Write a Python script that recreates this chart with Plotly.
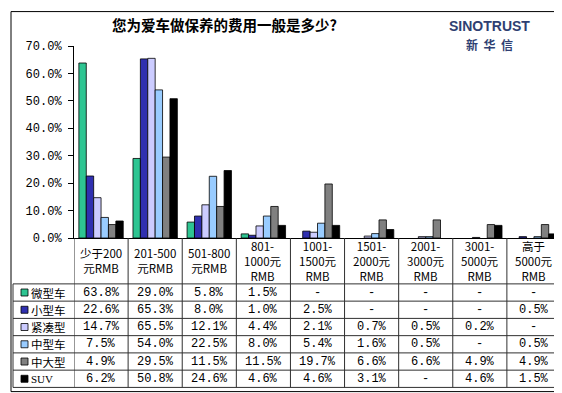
import plotly.graph_objects as go

# ---------------- data ----------------
categories = ["少于200<br>元RMB", "201-500<br>元RMB", "501-800<br>元RMB",
              "801-<br>1000元<br>RMB", "1001-<br>1500元<br>RMB", "1501-<br>2000元<br>RMB",
              "2001-<br>3000元<br>RMB", "3001-<br>5000元<br>RMB", "高于<br>5000元<br>RMB"]
series_names = ["微型车", "小型车", "紧凑型", "中型车", "中大型", "SUV"]
mini    = [63.8, 29.0, 5.8, 1.5, None, None, None, None, None]
small   = [22.6, 65.3, 8.0, 1.0, 2.5, None, None, None, 0.5]
compact = [14.7, 65.5, 12.1, 4.4, 2.1, 0.7, 0.5, 0.2, None]
mid     = [7.5, 54.0, 22.5, 8.0, 5.4, 1.6, 0.5, None, 0.5]
midlarge = [4.9, 29.5, 11.5, 11.5, 19.7, 6.6, 6.6, 4.9, 4.9]
suv     = [6.2, 50.8, 24.6, 4.6, 4.6, 3.1, None, 4.6, 1.5]
series_values = [mini, small, compact, mid, midlarge, suv]
colors = ["#2ec592", "#3030b0", "#ccccff", "#99ccff", "#808080", "#000000"]
y_ticks = [0, 10, 20, 30, 40, 50, 60, 70]
title = "您为爱车做保养的费用一般是多少?"

# ---------------- geometry (pixels) ----------------
W, H = 562, 393
PL, PR, PT, PB = 66, 553, 37.5, 230  # plot area in px


def px2x(px):
    return (px - PL) / (PR - PL)


def px2y(py):
    return (PB - py) / (PB - PT)


fig = go.Figure()
for name, vals, col in zip(series_names, series_values, colors):
    fig.add_trace(go.Bar(
        x=categories, y=vals, name=name,
        marker=dict(color=col, line=dict(color="#000000", width=0.8)),
        showlegend=False,
    ))

shapes = []
annotations = []
line_col = "#303030"

# table geometry
header_bottom = 276
row_h = 17.3
n_rows = len(series_names)
table_bottom = header_bottom + n_rows * row_h
table_left = 5

# vertical lines at category boundaries
for i in range(len(categories) + 1):
    shapes.append(dict(type="line", xref="x", yref="paper",
                       x0=i - 0.5, x1=i - 0.5, y0=px2y(PB), y1=px2y(table_bottom),
                       line=dict(color=line_col, width=1)))
# left border of legend column
shapes.append(dict(type="line", xref="paper", yref="paper",
                   x0=px2x(table_left), x1=px2x(table_left),
                   y0=px2y(header_bottom), y1=px2y(table_bottom),
                   line=dict(color=line_col, width=1)))
# horizontal lines
for r in range(n_rows + 1):
    yy = header_bottom + r * row_h
    shapes.append(dict(type="line", xref="paper", yref="paper",
                       x0=px2x(table_left), x1=px2x(PR), y0=px2y(yy), y1=px2y(yy),
                       line=dict(color=line_col, width=1)))

# category labels in header row
for c in categories:
    annotations.append(dict(xref="x", yref="paper", x=c, y=px2y((PB + header_bottom) / 2),
                            text=c, showarrow=False, xanchor="center", yanchor="middle",
                            font=dict(family="Noto Sans CJK SC", size=11.5, color="#000000")))

# data rows
for r, (name, vals, col) in enumerate(zip(series_names, series_values, colors)):
    yc = header_bottom + (r + 0.5) * row_h
    # legend key
    shapes.append(dict(type="rect", xref="paper", yref="paper",
                       x0=px2x(13), x1=px2x(20), y0=px2y(yc - 3.5), y1=px2y(yc + 3.5),
                       fillcolor=col, line=dict(color="#000000", width=0.8)))
    fam = "Liberation Serif" if name == "SUV" else "Noto Sans CJK SC"
    annotations.append(dict(xref="paper", yref="paper", x=px2x(21), y=px2y(yc),
                            text=name, showarrow=False, xanchor="left", yanchor="middle",
                            font=dict(family=fam, size=11.5 if name != "SUV" else 11,
                                      color="#000000")))
    for c, v in zip(categories, vals):
        txt = "-" if v is None else f"{v:.1f}%"
        annotations.append(dict(xref="x", yref="paper", x=c, y=px2y(yc),
                                text=txt, showarrow=False, xanchor="center", yanchor="middle",
                                font=dict(family="Liberation Mono, Noto Sans CJK SC",
                                          size=12, color="#000000")))

# outer frame
shapes.append(dict(type="rect", xref="paper", yref="paper",
                   x0=px2x(3), x1=px2x(556), y0=px2y(3), y1=px2y(384),
                   line=dict(color="#000000", width=1), fillcolor="rgba(0,0,0,0)"))

# title
annotations.append(dict(xref="paper", yref="paper", x=px2x(216), y=px2y(16),
                        text=f"<b>{title}</b>", showarrow=False,
                        xanchor="center", yanchor="middle",
                        font=dict(family="Noto Sans CJK SC", size=14.5, color="#000000")))
# logo
annotations.append(dict(xref="paper", yref="paper", x=px2x(481), y=px2y(17.5),
                        text="<b>SINOTRUST</b>", showarrow=False, borderpad=0,
                        xanchor="center", yanchor="middle",
                        font=dict(family="Liberation Sans", size=14, color="#2f3f72")))
annotations.append(dict(xref="paper", yref="paper", x=px2x(481), y=px2y(36),
                        text="<b>新  华  信</b>", showarrow=False, borderpad=0,
                        xanchor="center", yanchor="middle",
                        font=dict(family="Noto Sans CJK SC", size=12, color="#2f3f72")))

fig.update_layout(
    width=W, height=H,
    margin=dict(l=PL, r=W - PR, t=PT, b=H - PB, pad=0),
    paper_bgcolor="#ffffff", plot_bgcolor="#ffffff",
    barmode="group", bargap=0.18, bargroupgap=0,
    shapes=shapes, annotations=annotations,
    xaxis=dict(type="category", range=[-0.5, 8.5], showticklabels=False,
               showline=True, linecolor="#000000", linewidth=1, ticks="",
               showgrid=False, zeroline=False),
    yaxis=dict(range=[0, 70], tickvals=y_ticks,
               ticktext=[f"{t:.1f}%" for t in y_ticks],
               showline=True, linecolor="#000000", linewidth=1,
               ticks="outside", ticklen=5, tickcolor="#000000",
               ticklabelstandoff=4,
               tickfont=dict(family="Liberation Mono", size=12, color="#000000"),
               showgrid=False, zeroline=False),
)

fig.write_html("out.html")
